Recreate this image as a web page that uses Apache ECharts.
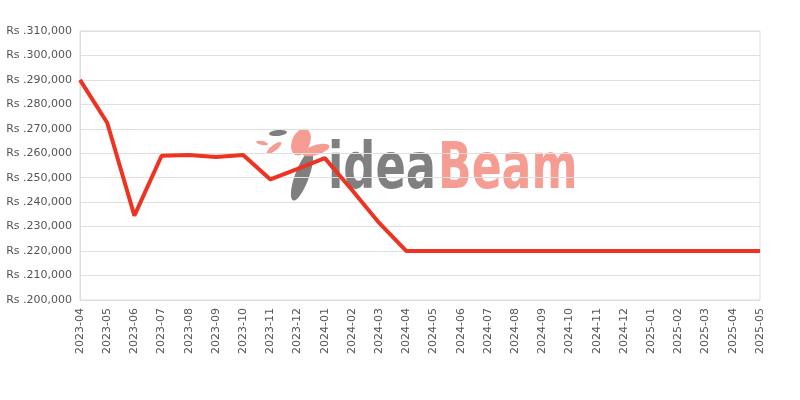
<!DOCTYPE html>
<html>
<head>
<meta charset="utf-8">
<script src="https://cdn.jsdelivr.net/npm/echarts@6/dist/echarts.min.js"></script>
<style>html,body{margin:0;padding:0;background:#fff}#c{width:800px;height:400px}</style>
</head>
<body>
<div id="c"></div>
<script>
const categories = ["2023-04","2023-05","2023-06","2023-07","2023-08","2023-09","2023-10","2023-11","2023-12","2024-01","2024-02","2024-03","2024-04","2024-05","2024-06","2024-07","2024-08","2024-09","2024-10","2024-11","2024-12","2025-01","2025-02","2025-03","2025-04","2025-05"];
const prices = [290000,272500,234500,259000,259300,258500,259300,249300,253600,258000,245000,231500,220000,220000,220000,220000,220000,220000,220000,220000,220000,220000,220000,220000,220000,220000];
const yMin = 200000, yMax = 310000, yStep = 10000;

const wmFont = 'bold 64px "DejaVu Sans", sans-serif';
const chart = echarts.init(document.getElementById('c'));
chart.setOption({
  animation: false,
  backgroundColor: '#fff',
  grid: {left: 80, right: 40, top: 31, bottom: 100, show: true, borderColor: '#dddddd', borderWidth: 1},
  graphic: [
    {type: 'group', z: 0, children: [
      // bird / leaves logo (decorative)
      {type: 'ellipse', shape: {cx: 0, cy: 0, rx: 7, ry: 26}, x: 302, y: 176, rotation: -0.35, style: {fill: '#7f7f7f'}},
      {type: 'ellipse', shape: {cx: 0, cy: 0, rx: 9, ry: 3}, x: 278, y: 133, rotation: 0.1, style: {fill: '#7f7f7f'}},
      {type: 'ellipse', shape: {cx: 0, cy: 0, rx: 3, ry: 9}, x: 274, y: 148, rotation: -0.9, style: {fill: '#f59d92'}},
      {type: 'ellipse', shape: {cx: 0, cy: 0, rx: 6, ry: 2}, x: 262, y: 143, rotation: -0.2, style: {fill: '#f59d92'}},
      {type: 'ellipse', shape: {cx: 0, cy: 0, rx: 9, ry: 14}, x: 301, y: 142, rotation: -0.4, style: {fill: '#f59d92'}},
      {type: 'ellipse', shape: {cx: 0, cy: 0, rx: 14, ry: 5}, x: 316, y: 150, rotation: 0.3, style: {fill: '#f59d92'}},
      {type: 'text', x: 328, y: 203, scaleX: 0.70, style: {text: 'idea', fill: '#808080', font: wmFont, textVerticalAlign: 'bottom'}},
      {type: 'text', x: 438, y: 203, scaleX: 0.69, style: {text: 'Beam', fill: '#f59d92', font: wmFont, textVerticalAlign: 'bottom'}}
    ]}
  ],
  xAxis: {
    type: 'category', data: categories, boundaryGap: false,
    axisLine: {show: true, lineStyle: {color: '#dddddd'}},
    axisTick: {show: false},
    axisLabel: {rotate: 90, color: '#555', fontSize: 11, fontFamily: 'DejaVu Sans', margin: 8},
    splitLine: {show: false}
  },
  yAxis: {
    type: 'value', min: yMin, max: yMax, interval: yStep,
    axisLine: {show: true, lineStyle: {color: '#dddddd'}},
    axisTick: {show: false},
    axisLabel: {color: '#555', fontSize: 11, fontFamily: 'DejaVu Sans', margin: 8,
      formatter: v => 'Rs .' + v.toLocaleString('en-US')},
    splitLine: {lineStyle: {color: '#e0e0e0'}}
  },
  series: [{
    type: 'line', data: prices, symbol: 'none', z: 5,
    lineStyle: {color: '#ee3322', width: 4}
  }]
});
</script>
</body>
</html>
